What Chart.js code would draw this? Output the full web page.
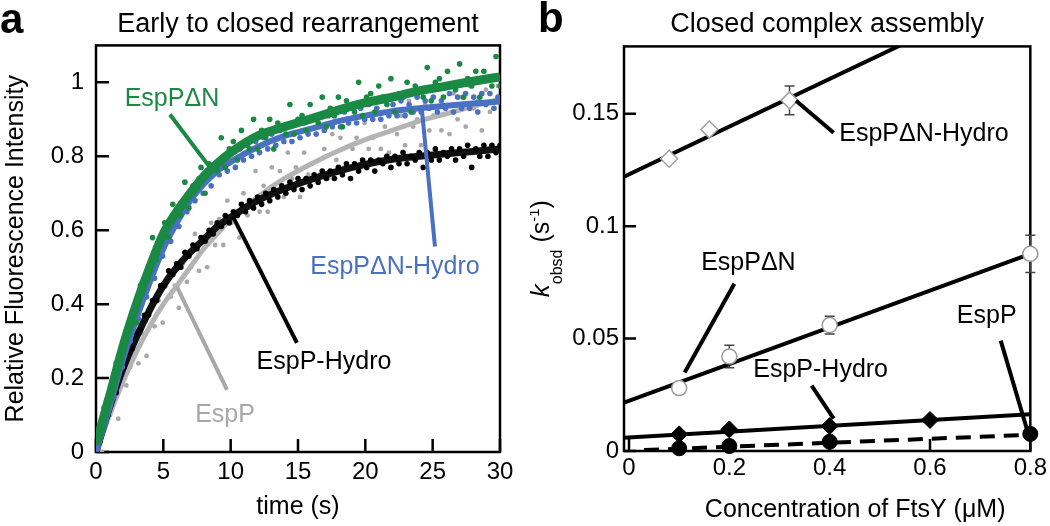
<!DOCTYPE html>
<html>
<head>
<meta charset="utf-8">
<script src="https://cdn.jsdelivr.net/npm/chart.js@4.4.0/dist/chart.umd.min.js"></script>
<style>
  html, body { margin: 0; padding: 0; background: #fff; }
  #wrap { position: relative; width: 1050px; height: 526px; }
  .panel { position: absolute; top: 0; height: 526px; }
  #pa { left: 0; width: 530px; }
  #pb { left: 530px; width: 520px; }
</style>
</head>
<body>
<div id="wrap">
  <div class="panel" id="pa"><canvas id="chartA"></canvas></div>
  <div class="panel" id="pb"><canvas id="chartB"></canvas></div>
</div>
<script>
// ---- panel a: fluorescence traces (time in s) ----
var timeA = [0,0.3,0.6,0.9,1.2,1.5,1.8,2.1,2.4,2.7,3,3.3,3.6,3.9,4.2,4.5,4.8,5.1,5.4,5.7,6,6.3,6.6,6.9,7.2,7.5,7.8,8.1,8.4,8.7,9,9.3,9.6,9.9,10.2,10.5,10.8,11.1,11.4,11.7,12,12.3,12.6,12.9,13.2,13.5,13.8,14.1,14.4,14.7,15,15.3,15.6,15.9,16.2,16.5,16.8,17.1,17.4,17.7,18,18.3,18.6,18.9,19.2,19.5,19.8,20.1,20.4,20.7,21,21.3,21.6,21.9,22.2,22.5,22.8,23.1,23.4,23.7,24,24.3,24.6,24.9,25.2,25.5,25.8,26.1,26.4,26.7,27,27.3,27.6,27.9,28.2,28.5,28.8,29.1,29.4,29.7,30];
var timeB = [0.15,0.45,0.75,1.05,1.35,1.65,1.95,2.25,2.55,2.85,3.15,3.45,3.75,4.05,4.35,4.65,4.95,5.25,5.55,5.85,6.15,6.45,6.75,7.05,7.35,7.65,7.95,8.25,8.55,8.85,9.15,9.45,9.75,10.05,10.35,10.65,10.95,11.25,11.55,11.85,12.15,12.45,12.75,13.05,13.35,13.65,13.95,14.25,14.55,14.85,15.15,15.45,15.75,16.05,16.35,16.65,16.95,17.25,17.55,17.85,18.15,18.45,18.75,19.05,19.35,19.65,19.95,20.25,20.55,20.85,21.15,21.45,21.75,22.05,22.35,22.65,22.95,23.25,23.55,23.85,24.15,24.45,24.75,25.05,25.35,25.65,25.95,26.25,26.55,26.85,27.15,27.45,27.75,28.05,28.35,28.65,28.95,29.25,29.55,29.85];

// EspPΔN (timeA)
var espPdN = [0.03,0.05,0.12,0.14,0.17,0.24,0.24,0.30,0.33,0.38,0.35,0.45,0.46,0.47,0.58,0.52,0.58,0.62,0.58,0.67,0.65,0.64,0.73,0.66,0.72,0.71,0.77,0.70,0.78,0.77,0.76,0.85,0.77,0.82,0.84,0.79,0.87,0.84,0.82,0.90,0.82,0.87,0.85,0.90,0.82,0.89,0.88,0.86,0.94,0.86,0.90,0.91,0.87,0.94,0.90,0.89,0.96,0.88,0.93,0.91,0.96,0.88,0.95,0.93,0.92,1.00,0.91,0.96,0.97,0.92,0.99,0.96,0.94,1.01,0.92,0.97,0.96,1.00,0.92,0.99,0.98,0.96,1.04,0.95,1.00,1.01,0.96,1.03,0.99,0.98,1.05,0.96,1.01,0.99,1.03,0.96,1.03,1.01,0.99,1.07,0.99];
// EspPΔN-Hydro (timeB)
var espPdNHydro = [0.01,0.07,0.08,0.14,0.15,0.22,0.23,0.30,0.30,0.37,0.36,0.42,0.42,0.48,0.47,0.54,0.53,0.59,0.57,0.63,0.61,0.67,0.65,0.70,0.68,0.74,0.70,0.76,0.72,0.78,0.75,0.80,0.76,0.81,0.77,0.82,0.79,0.83,0.80,0.84,0.81,0.85,0.82,0.86,0.83,0.87,0.84,0.88,0.84,0.89,0.85,0.89,0.86,0.90,0.86,0.91,0.87,0.91,0.88,0.92,0.88,0.92,0.89,0.93,0.89,0.93,0.90,0.94,0.90,0.93,0.90,0.95,0.91,0.94,0.91,0.95,0.91,0.94,0.92,0.96,0.92,0.95,0.93,0.96,0.92,0.95,0.93,0.97,0.92,0.96,0.93,0.97,0.93,0.96,0.92,0.97,0.94,0.97,0.93,0.96];
// EspP-Hydro (timeA)
var espPHydro = [0.01,0.03,0.08,0.10,0.15,0.16,0.22,0.23,0.27,0.28,0.32,0.33,0.37,0.37,0.41,0.41,0.45,0.45,0.49,0.48,0.51,0.50,0.54,0.53,0.56,0.55,0.58,0.57,0.60,0.59,0.62,0.61,0.64,0.62,0.65,0.64,0.67,0.65,0.68,0.66,0.69,0.67,0.70,0.68,0.71,0.69,0.72,0.70,0.73,0.71,0.74,0.71,0.74,0.72,0.75,0.73,0.76,0.74,0.76,0.74,0.77,0.75,0.78,0.74,0.78,0.76,0.79,0.77,0.79,0.76,0.79,0.78,0.80,0.77,0.80,0.78,0.81,0.78,0.80,0.79,0.81,0.77,0.81,0.79,0.82,0.79,0.81,0.80,0.82,0.79,0.82,0.80,0.83,0.77,0.82,0.80,0.83,0.80,0.83,0.81,0.83];
// EspP (timeB)
var espP = [0.05,0.00,0.14,0.10,0.14,0.09,0.23,0.18,0.23,0.33,0.24,0.32,0.26,0.39,0.34,0.41,0.35,0.47,0.42,0.45,0.39,0.51,0.46,0.50,0.59,0.49,0.57,0.50,0.62,0.56,0.63,0.56,0.68,0.62,0.65,0.58,0.70,0.64,0.68,0.76,0.65,0.72,0.65,0.77,0.70,0.76,0.69,0.81,0.74,0.77,0.69,0.81,0.75,0.78,0.86,0.75,0.82,0.74,0.86,0.79,0.85,0.77,0.89,0.82,0.85,0.77,0.89,0.82,0.85,0.93,0.82,0.88,0.81,0.92,0.86,0.91,0.83,0.95,0.88,0.90,0.83,0.94,0.87,0.91,0.98,0.87,0.93,0.86,0.97,0.90,0.96,0.88,0.99,0.93,0.95,0.87,0.98,0.92,0.95,0.99];

// fitted curves
var fitTime = [0,1,2,3,4,5,6,7,8,9,10,12,14,16,18,20,22,24,26,28,30];
var fitPdN = [0.02,0.15,0.285,0.40,0.50,0.59,0.65,0.70,0.745,0.78,0.81,0.855,0.88,0.902,0.925,0.945,0.96,0.977,0.99,1.003,1.015];
var fitPdNHydro = [0.0,0.12,0.25,0.36,0.46,0.55,0.62,0.68,0.725,0.76,0.785,0.825,0.855,0.875,0.895,0.91,0.922,0.93,0.937,0.943,0.948];
var fitPHydro = [0,0.12,0.225,0.31,0.385,0.45,0.5,0.54,0.575,0.61,0.635,0.68,0.712,0.738,0.76,0.778,0.792,0.80,0.807,0.813,0.82];
var fitP = [0,0.1,0.19,0.27,0.34,0.40,0.45,0.50,0.55,0.59,0.63,0.69,0.74,0.78,0.815,0.845,0.87,0.895,0.915,0.935,0.955];

var xTicksA = [0,5,10,15,20,25,30];
var xTickLabelsA = ['0','5','10','15','20','25','30'];
var yTicksA = [0,0.2,0.4,0.6,0.8,1];
var yTickLabelsA = ['0','0.2','0.4','0.6','0.8','1'];

// ---- panel b: kobsd vs FtsY concentration (µM) ----
var concDNH = [0.08,0.16,0.32];
var kDNH = [0.130,0.143,0.156];
var errDNH = [0,0,0.0064];
var concDN = [0.1,0.2,0.4,0.8];
var kDN = [0.028,0.042,0.056,0.0877];
var errDN = [0,0.005,0.004,0.0083];
var concPH = [0.1,0.2,0.4,0.6];
var kPH = [0.0074,0.0096,0.0111,0.0138];
var concP = [0.1,0.2,0.4,0.8];
var kP = [0.0012,0.0022,0.0041,0.0076];

var fitConcDNH = [-0.01,0.8];
var fitKDNH = [0.122,0.208];
var fitConcDN = [-0.01,0.8];
var fitKDN = [0.0215,0.0877];
var fitConcPH = [-0.01,0.8];
var fitKPH = [0.0059,0.0163];
var fitConcP = [0.03,0.8];
var fitKP = [0.0004,0.0072];

var xTicksB = [0,0.2,0.4,0.6,0.8];
var xTickLabelsB = ['0','0.2','0.4','0.6','0.8'];
var yTicksB = [0,0.05,0.1,0.15];
var yTickLabelsB = ['0','0.05','0.1','0.15'];

// colours
var GREEN = '#198943';
var BLUE = '#4a70c2';
var GRAY = '#a8a8a8';
var FONT = "'Liberation Sans', Arial, Helvetica, sans-serif";

Chart.defaults.font.family = FONT;
Chart.defaults.color = '#000';

function pts(xs, ys) {
  return xs.map(function (x, i) { return { x: x, y: ys[i] }; });
}

function fixedTicks(values) {
  return function (scale) {
    scale.ticks = values.map(function (v) { return { value: v }; });
  };
}

// box round the plot + inward tick marks + panel letter
function framePlugin(tickLen, letter, letterX, letterY) {
  return {
    id: 'frame' + letter,
    beforeDatasetsDraw: function (chart) {
      var ctx = chart.ctx, a = chart.chartArea;
      var x = chart.scales.x, y = chart.scales.y;
      ctx.save();
      ctx.strokeStyle = '#000';
      ctx.lineWidth = 2.5;
      ctx.strokeRect(a.left, a.top, a.right - a.left, a.bottom - a.top);
      ctx.beginPath();
      y.ticks.forEach(function (t) {
        var py = y.getPixelForValue(t.value);
        ctx.moveTo(a.left, py);
        ctx.lineTo(a.left + tickLen, py);
      });
      x.ticks.forEach(function (t) {
        var px = x.getPixelForValue(t.value);
        ctx.moveTo(px, a.bottom);
        ctx.lineTo(px, a.bottom - tickLen);
      });
      ctx.stroke();
      ctx.restore();
    },
    afterDraw: function (chart) {
      var ctx = chart.ctx;
      ctx.save();
      ctx.fillStyle = '#000';
      ctx.font = 'bold 42px ' + FONT;
      ctx.textAlign = 'left';
      ctx.textBaseline = 'alphabetic';
      ctx.fillText(letter, letterX, letterY);
      ctx.restore();
    }
  };
}

// labels with pointer lines, positioned in data units
function notesPlugin(notes) {
  return {
    id: 'notes',
    afterDatasetsDraw: function (chart) {
      var ctx = chart.ctx;
      var x = chart.scales.x, y = chart.scales.y;
      ctx.save();
      notes.forEach(function (n) {
        ctx.strokeStyle = n.color;
        ctx.lineWidth = 4;
        ctx.beginPath();
        ctx.moveTo(x.getPixelForValue(n.from[0]), y.getPixelForValue(n.from[1]));
        ctx.lineTo(x.getPixelForValue(n.to[0]), y.getPixelForValue(n.to[1]));
        ctx.stroke();
        ctx.fillStyle = n.color;
        ctx.font = '25px ' + FONT;
        ctx.textAlign = 'center';
        ctx.textBaseline = 'middle';
        ctx.fillText(n.text, x.getPixelForValue(n.at[0]), y.getPixelForValue(n.at[1]));
      });
      ctx.restore();
    }
  };
}

var notesA = [
  { text: 'EspPΔN', color: GREEN, at: [5.64, 0.954], from: [5.49, 0.913], to: [8.46, 0.77] },
  { text: 'EspPΔN-Hydro', color: BLUE, at: [22.2, 0.501], from: [25.17, 0.556], to: [24.2, 0.927] },
  { text: 'EspP-Hydro', color: '#000', at: [16.93, 0.244], from: [14.92, 0.295], to: [10.17, 0.637] },
  { text: 'EspP', color: GRAY, at: [9.58, 0.10], from: [9.73, 0.168], to: [6.01, 0.447] }
];

var notesB = [
  { text: 'EspPΔN-Hydro', color: '#000', at: [0.588, 0.141], from: [0.333, 0.1558], to: [0.408, 0.1416] },
  { text: 'EspPΔN', color: '#000', at: [0.238, 0.0838], from: [0.21, 0.0744], to: [0.111, 0.0349] },
  { text: 'EspP', color: '#000', at: [0.713, 0.0602], from: [0.741, 0.0491], to: [0.794, 0.0091] },
  { text: 'EspP-Hydro', color: '#000', at: [0.382, 0.0358], from: [0.364, 0.0291], to: [0.408, 0.0144] }
];

// error bars under the markers of panel b
var errorBarPlugin = {
  id: 'errbars',
  beforeDatasetsDraw: function (chart) {
    var ctx = chart.ctx;
    var x = chart.scales.x, y = chart.scales.y;
    var sets = [[concDNH, kDNH, errDNH], [concDN, kDN, errDN]];
    ctx.save();
    ctx.strokeStyle = '#444';
    ctx.lineWidth = 1.5;
    sets.forEach(function (s) {
      s[0].forEach(function (c, i) {
        if (!s[2][i]) return;
        var px = x.getPixelForValue(c);
        var top = y.getPixelForValue(s[1][i] + s[2][i]);
        var bot = y.getPixelForValue(s[1][i] - s[2][i]);
        ctx.beginPath();
        ctx.moveTo(px, top); ctx.lineTo(px, bot);
        ctx.moveTo(px - 5, top); ctx.lineTo(px + 5, top);
        ctx.moveTo(px - 5, bot); ctx.lineTo(px + 5, bot);
        ctx.stroke();
      });
    });
    ctx.restore();
  }
};

// axis titles of panel b (k_obsd with sub/superscript)
var axisTitlesB = {
  id: 'axisTitlesB',
  afterDraw: function (chart) {
    var ctx = chart.ctx, a = chart.chartArea;
    ctx.save();
    ctx.fillStyle = '#000';
    ctx.textBaseline = 'alphabetic';
    ctx.textAlign = 'center';
    ctx.font = '25px ' + FONT;
    ctx.fillText('Concentration of FtsY (μM)', (a.left + a.right) / 2 + 28, 517);

    ctx.translate(0, (a.top + a.bottom) / 2);
    ctx.rotate(-Math.PI / 2);
    ctx.textAlign = 'left';
    var parts = [
      { t: 'k', f: 'italic 26px ' + FONT, dy: 19 },
      { t: 'obsd', f: '16px ' + FONT, dy: 32 },
      { t: ' (s', f: '25px ' + FONT, dy: 19 },
      { t: '-1', f: '15px ' + FONT, dy: 9 },
      { t: ')', f: '25px ' + FONT, dy: 19 }
    ];
    var total = 0;
    parts.forEach(function (p) { ctx.font = p.f; p.w = ctx.measureText(p.t).width; total += p.w; });
    var cx = -total / 2;
    parts.forEach(function (p) {
      ctx.font = p.f;
      ctx.fillText(p.t, cx, p.dy);
      cx += p.w;
    });
    ctx.restore();
  }
};

// ---------- chart a ----------
// fit curves are drawn wide under their own dots, as the dense traces look in the figure
new Chart(document.getElementById('chartA'), {
  type: 'scatter',
  data: {
    datasets: [
      { label: 'EspPΔN', data: pts(timeA, espPdN), pointRadius: 2.8, pointBackgroundColor: GREEN, pointBorderWidth: 0, order: 1 },
      { label: 'EspPΔN fit', data: pts(fitTime, fitPdN), showLine: true, pointRadius: 0, borderColor: GREEN, borderWidth: 9, cubicInterpolationMode: 'monotone', order: 2 },
      { label: 'EspPΔN-Hydro', data: pts(timeB, espPdNHydro), pointRadius: 2.8, pointBackgroundColor: BLUE, pointBorderWidth: 0, order: 3 },
      { label: 'EspPΔN-Hydro fit', data: pts(fitTime, fitPdNHydro), showLine: true, pointRadius: 0, borderColor: BLUE, borderWidth: 6, cubicInterpolationMode: 'monotone', order: 4 },
      { label: 'EspP-Hydro', data: pts(timeA, espPHydro), pointRadius: 2.8, pointBackgroundColor: '#000', pointBorderWidth: 0, order: 5 },
      { label: 'EspP-Hydro fit', data: pts(fitTime, fitPHydro), showLine: true, pointRadius: 0, borderColor: '#111', borderWidth: 7, cubicInterpolationMode: 'monotone', order: 6 },
      { label: 'EspP fit', data: pts(fitTime, fitP), showLine: true, pointRadius: 0, borderColor: '#b4b4b4', borderWidth: 5, cubicInterpolationMode: 'monotone', order: 7 },
      { label: 'EspP', data: pts(timeB, espP), pointRadius: 2.4, pointBackgroundColor: GRAY, pointBorderWidth: 0, order: 8 }
    ]
  },
  options: {
    responsive: true,
    maintainAspectRatio: false,
    animation: false,
    devicePixelRatio: 1,
    layout: { padding: { left: 0, right: 30, top: 0, bottom: 0 } },
    plugins: {
      legend: { display: false },
      tooltip: { enabled: false },
      title: {
        display: true, fullSize: false, text: 'Early to closed rearrangement',
        font: { size: 27, weight: 'normal' }, color: '#000', padding: { top: 8, bottom: 5 }
      }
    },
    scales: {
      x: {
        type: 'linear', min: 0, max: 30,
        afterBuildTicks: fixedTicks(xTicksA),
        afterFit: function (s) { s.height = 74; },
        grid: { display: false, drawTicks: false },
        border: { display: false },
        ticks: { callback: function (v, i) { return xTickLabelsA[i]; }, font: { size: 24 }, color: '#000', padding: 6, maxRotation: 0 },
        title: { display: true, text: 'time (s)', font: { size: 25 }, color: '#000', padding: { top: 0, bottom: 4 } }
      },
      y: {
        type: 'linear', min: 0, max: 1.1,
        afterBuildTicks: fixedTicks(yTicksA),
        afterFit: function (s) { s.width = 96; },
        grid: { display: false, drawTicks: false },
        border: { display: false },
        ticks: { callback: function (v, i) { return yTickLabelsA[i]; }, font: { size: 24 }, color: '#000', padding: 12 },
        title: { display: true, text: 'Relative Fluorescence Intensity', font: { size: 25 }, color: '#000', padding: { top: 1, bottom: 0 } }
      }
    }
  },
  plugins: [framePlugin(13, 'a', 0, 33), notesPlugin(notesA)]
});

// ---------- chart b ----------
new Chart(document.getElementById('chartB'), {
  type: 'scatter',
  data: {
    datasets: [
      { label: 'EspPΔN-Hydro', data: pts(concDNH, kDNH), pointStyle: 'rectRot', pointRadius: 8.5, pointBackgroundColor: '#fff', pointBorderColor: '#a0a0a0', pointBorderWidth: 1.5, clip: false, order: 1 },
      { label: 'EspPΔN', data: pts(concDN, kDN), pointStyle: 'circle', pointRadius: 7.5, pointBackgroundColor: '#fff', pointBorderColor: '#9a9a9a', pointBorderWidth: 1.5, clip: false, order: 2 },
      { label: 'EspP-Hydro', data: pts(concPH, kPH), pointStyle: 'rectRot', pointRadius: 8.5, pointBackgroundColor: '#000', pointBorderColor: '#000', pointBorderWidth: 1, clip: false, order: 3 },
      { label: 'EspP', data: pts(concP, kP), pointStyle: 'circle', pointRadius: 7.5, pointBackgroundColor: '#000', pointBorderColor: '#000', pointBorderWidth: 1, clip: false, order: 4 },
      { label: 'EspPΔN-Hydro fit', data: pts(fitConcDNH, fitKDNH), showLine: true, pointRadius: 0, borderColor: '#000', borderWidth: 4, order: 5 },
      { label: 'EspPΔN fit', data: pts(fitConcDN, fitKDN), showLine: true, pointRadius: 0, borderColor: '#000', borderWidth: 4, order: 6 },
      { label: 'EspP-Hydro fit', data: pts(fitConcPH, fitKPH), showLine: true, pointRadius: 0, borderColor: '#000', borderWidth: 4, order: 7 },
      { label: 'EspP fit', data: pts(fitConcP, fitKP), showLine: true, pointRadius: 0, borderColor: '#000', borderWidth: 4, borderDash: [15, 9], order: 8 }
    ]
  },
  options: {
    responsive: true,
    maintainAspectRatio: false,
    animation: false,
    devicePixelRatio: 1,
    layout: { padding: { left: 0, right: 15, top: 0, bottom: 0 } },
    plugins: {
      legend: { display: false },
      tooltip: { enabled: false },
      title: {
        display: true, fullSize: false, text: 'Closed complex assembly',
        font: { size: 27, weight: 'normal' }, color: '#000', padding: { top: 8, bottom: 6 }
      }
    },
    scales: {
      x: {
        type: 'linear', min: -0.01, max: 0.8,
        afterBuildTicks: fixedTicks(xTicksB),
        afterFit: function (s) { s.height = 75; },
        grid: { display: false, drawTicks: false },
        border: { display: false },
        ticks: { callback: function (v, i) { return xTickLabelsB[i]; }, font: { size: 24 }, color: '#000', padding: 3, maxRotation: 0 }
      },
      y: {
        type: 'linear', min: 0, max: 0.18,
        afterBuildTicks: fixedTicks(yTicksB),
        afterFit: function (s) { s.width = 94; },
        grid: { display: false, drawTicks: false },
        border: { display: false },
        ticks: { callback: function (v, i) { return yTickLabelsB[i]; }, font: { size: 24 }, color: '#000', padding: 5 }
      }
    }
  },
  plugins: [framePlugin(12, 'b', 8, 32), errorBarPlugin, notesPlugin(notesB), axisTitlesB]
});
</script>
</body>
</html>
